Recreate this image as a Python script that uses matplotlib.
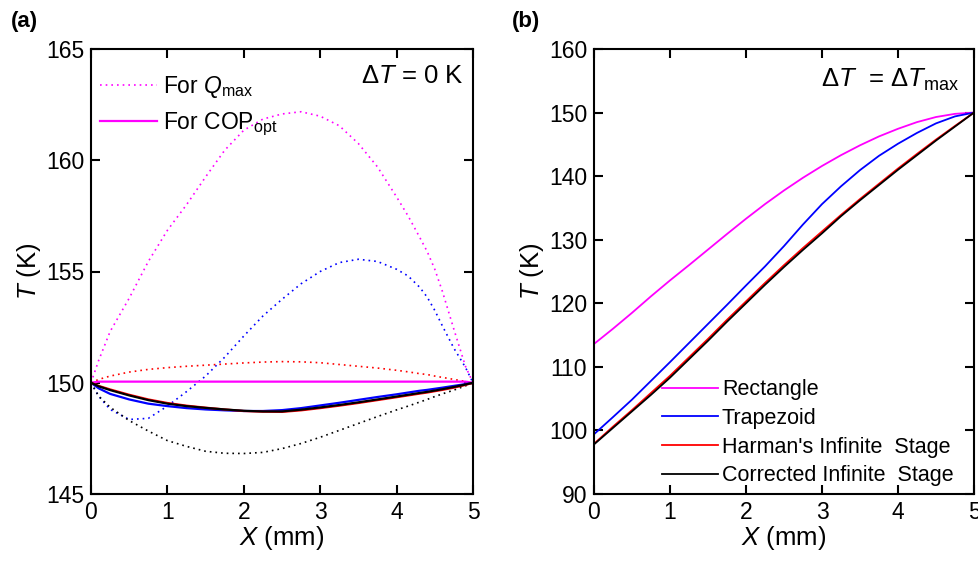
import numpy as np
import matplotlib
matplotlib.use('Agg')
import matplotlib.pyplot as plt

plt.rcParams['font.family'] = ['Liberation Sans', 'DejaVu Sans']
plt.rcParams['mathtext.fontset'] = 'custom'
plt.rcParams['mathtext.rm'] = 'Liberation Sans'
plt.rcParams['mathtext.it'] = 'Liberation Sans:italic'

# ---- panel (a): dT = 0 K ----
xa = [0, 0.1, 0.25, 0.5, 0.75, 1.0, 1.25, 1.5, 1.75, 2.0, 2.25, 2.5,
      2.75, 3.0, 3.25, 3.5, 3.75, 4.0, 4.15, 4.3, 4.4, 4.5, 4.6, 4.75, 4.9, 5.0]

rect_qmax = [150.0, 151.0, 152.3, 153.8, 155.45, 156.85, 158.0, 159.25, 160.45, 161.35, 161.85, 162.08,
             162.18, 161.98, 161.55, 160.75, 159.7, 158.35, 157.5, 156.55, 155.9, 155.1, 154.1, 152.4, 150.75, 150.0]
trap_qmax = [150.0, 149.4, 148.8, 148.35, 148.4, 148.95, 149.6, 150.3, 151.15, 152.1, 153.0, 153.75,
             154.45, 155.0, 155.4, 155.55, 155.45, 155.1, 154.8, 154.3, 153.85, 153.25, 152.55, 151.55, 150.7, 150.0]
harm_qmax = [150.0, 150.15, 150.3, 150.48, 150.6, 150.68, 150.74, 150.79, 150.84, 150.89, 150.93, 150.95,
             150.94, 150.9, 150.82, 150.74, 150.66, 150.56, 150.49, 150.41, 150.37, 150.3, 150.24, 150.15, 150.06, 150.0]
corr_qmax = [150.0, 149.4, 148.9, 148.3, 147.83, 147.4, 147.14, 146.92, 146.83, 146.82, 146.87, 147.04,
             147.27, 147.55, 147.86, 148.17, 148.48, 148.78, 148.95, 149.13, 149.25, 149.38, 149.5, 149.67, 149.86, 150.0]

rect_cop = [150.0, 150.05, 150.05, 150.05, 150.05, 150.05, 150.05, 150.05, 150.05, 150.05, 150.05, 150.05,
            150.05, 150.05, 150.05, 150.05, 150.05, 150.05, 150.05, 150.05, 150.05, 150.05, 150.05, 150.05, 150.05, 150.0]
trap_cop = [150.0, 149.75, 149.5, 149.25, 149.06, 148.95, 148.86, 148.8, 148.76, 148.73, 148.73, 148.77,
            148.86, 148.98, 149.1, 149.23, 149.36, 149.48, 149.56, 149.64, 149.68, 149.73, 149.78, 149.86, 149.94, 150.0]
harm_cop = [150.0, 149.86, 149.7, 149.46, 149.25, 149.09, 148.97, 148.88, 148.8, 148.73, 148.7, 148.69,
            148.76, 148.86, 148.97, 149.09, 149.22, 149.35, 149.43, 149.51, 149.56, 149.62, 149.68, 149.78, 149.9, 150.0]
corr_cop = [150.0, 149.84, 149.67, 149.43, 149.22, 149.06, 148.95, 148.87, 148.8, 148.74, 148.71, 148.71,
            148.79, 148.89, 149.0, 149.12, 149.25, 149.38, 149.46, 149.54, 149.59, 149.65, 149.71, 149.81, 149.92, 150.0]

# ---- panel (b): dT = dTmax ----
xb = [0, 0.25, 0.5, 0.75, 1.0, 1.25, 1.5, 1.75, 2.0, 2.25, 2.5,
      2.75, 3.0, 3.25, 3.5, 3.75, 4.0, 4.25, 4.5, 4.75, 5.0]
rect_b = [113.6, 116.0, 118.5, 121.1, 123.6, 126.0, 128.45, 130.9, 133.3, 135.6, 137.75,
          139.75, 141.6, 143.3, 144.85, 146.25, 147.45, 148.5, 149.3, 149.8, 150.0]
trap_b = [99.4, 102.1, 104.85, 107.8, 110.75, 113.75, 116.75, 119.75, 122.8, 125.8, 129.0,
          132.4, 135.6, 138.4, 140.95, 143.2, 145.1, 146.8, 148.3, 149.4, 150.0]
harm_b = [97.9, 100.6, 103.2, 105.9, 108.6, 111.5, 114.4, 117.4, 120.3, 123.2, 126.0,
          128.7, 131.3, 133.9, 136.4, 138.8, 141.2, 143.5, 145.75, 147.9, 150.0]
corr_b = [97.8, 100.4, 103.0, 105.6, 108.3, 111.2, 114.1, 117.1, 120.0, 122.9, 125.7,
          128.4, 131.0, 133.7, 136.2, 138.6, 141.0, 143.3, 145.6, 147.8, 150.0]

fig = plt.figure(figsize=(9.79, 5.65), dpi=100)
ax1 = fig.add_axes([91/979, 1-494/565, 382/979, 445/565])
ax2 = fig.add_axes([594/979, 1-494/565, 380/979, 445/565])

dot = (0, (1, 2.4))
ax1.plot(xa, rect_qmax, color='#ff00ff', lw=1.2, ls=dot, label='For $Q_{\\mathrm{max}}$')
ax1.plot(xa, trap_qmax, color='#0000ff', lw=1.2, ls=dot)
ax1.plot(xa, harm_qmax, color='#ff0000', lw=1.2, ls=dot)
ax1.plot(xa, corr_qmax, color='#000000', lw=1.2, ls=dot)
ax1.plot(xa, rect_cop, color='#ff00ff', lw=1.6, label='For COP$_{\\mathrm{opt}}$')
ax1.plot(xa, trap_cop, color='#0000ff', lw=1.6)
ax1.plot(xa, harm_cop, color='#ff0000', lw=1.6)
ax1.plot(xa, corr_cop, color='#000000', lw=1.6)

ax2.plot(xb, rect_b, color='#ff00ff', lw=1.3, label='Rectangle')
ax2.plot(xb, trap_b, color='#0000ff', lw=1.3, label='Trapezoid')
ax2.plot(xb, harm_b, color='#ff0000', lw=1.3, label="Harman's Infinite  Stage")
ax2.plot(xb, corr_b, color='#000000', lw=1.3, label='Corrected Infinite  Stage')

for ax in (ax1, ax2):
    ax.set_xlim(0, 5)
    ax.set_xticks([0, 1, 2, 3, 4, 5])
    ax.tick_params(direction='in', top=True, right=True, length=6.5, width=1.5,
                   labelsize=16.5, pad=5)
    for s in ax.spines.values():
        s.set_linewidth(1.5)
    ax.set_xlabel('$X$ (mm)', fontsize=18.5, labelpad=0)
    ax.set_ylabel('$T$ (K)', fontsize=18.5, labelpad=2)

ax1.set_ylim(145, 165)
ax1.set_yticks([145, 150, 155, 160, 165])
ax2.set_ylim(90, 160)
ax2.set_yticks(np.arange(90, 161, 10))

ax1.legend(loc='upper left', bbox_to_anchor=(-0.012, 0.975), frameon=False, fontsize=16.5,
           handlelength=2.5, handletextpad=0.25, labelspacing=0.45, borderaxespad=0.2)
ax2.legend(loc='lower right', bbox_to_anchor=(0.98, -0.012), frameon=False, fontsize=15.5,
           handlelength=2.6, handletextpad=0.2, labelspacing=0.36, borderaxespad=0.2)

ax1.text(0.975, 0.94, '$\\Delta T$ = 0 K', transform=ax1.transAxes, ha='right', va='center',
         fontsize=18.5)
ax2.text(0.96, 0.93, '$\\Delta T$  = $\\Delta T_{\\mathrm{max}}$', transform=ax2.transAxes,
         ha='right', va='center', fontsize=18.5)

fig.text(11/979, 1-22/565, '(a)', fontsize=16, fontweight='bold', va='center')
fig.text(512/979, 1-22/565, '(b)', fontsize=16, fontweight='bold', va='center')

fig.savefig('out.png', dpi=100)
